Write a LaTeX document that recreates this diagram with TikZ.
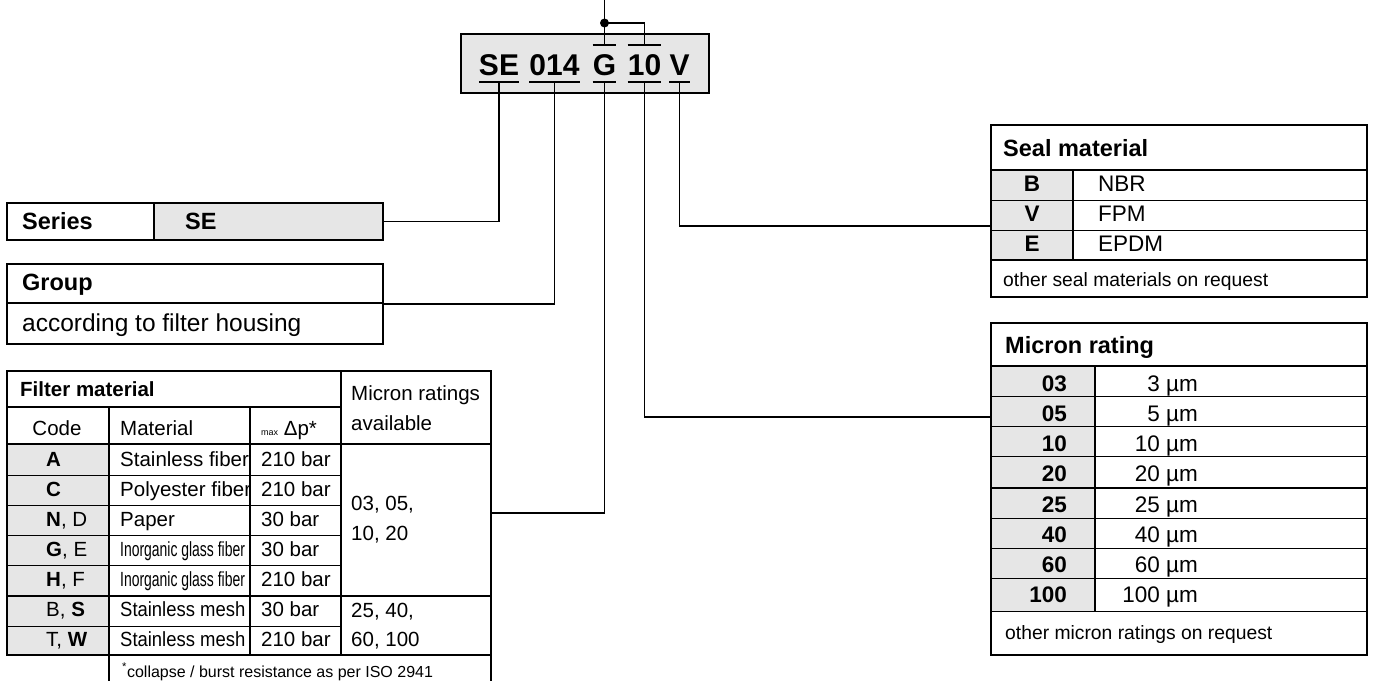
\documentclass[tikz,border=0pt]{standalone}
\usepackage{fontspec}
\setmainfont{Liberation Sans}
\newfontfamily\condensed[FakeStretch=0.68]{Liberation Sans}
\newfontfamily\narrowfont[FakeStretch=0.9]{Liberation Sans}
\usetikzlibrary{positioning,calc}
\definecolor{cellgray}{RGB}{230,230,230}

\begin{document}
\begin{tikzpicture}[
  x=1pt, y=-1pt,
  frame/.style={draw, line width=1.6pt, inner sep=0pt},
  heavy/.style={line width=1.6pt},
  rule/.style={line width=0.9pt},
  link/.style={line width=1.6pt},
  txt/.style={inner sep=0pt, anchor=base west},
  rtxt/.style={inner sep=0pt, anchor=base east},
  ctxt/.style={inner sep=0pt, anchor=base},
  part/.style={inner xsep=0pt, inner ysep=7pt, anchor=base, text height=23pt, text depth=0pt, font=\fontsize{30}{36}\selectfont\bfseries},
  head/.style={font=\fontsize{23.5}{28}\selectfont\bfseries},
  fb/.style={font=\fontsize{20.5}{24}\selectfont},
  val/.style={font=\fontsize{22.5}{27}\selectfont},
  note/.style={font=\fontsize{19.3}{23}\selectfont}
]
  \useasboundingbox[fill=white] (0,0) rectangle (1373,680);

  % Order code
  \node[frame, fill=cellgray, minimum width=248pt, minimum height=59pt] (code) at (585,63.5) {};
  \node[part] (cSE) at (499,75) {SE};
  \node[part] (c014) at (554.5,75) {014};
  \node[part] (cG) at (604.5,75) {G};
  \node[part] (c10) at (644.5,75) {10};
  \node[part] (cV) at (679.5,75) {V};

  \draw[link] (cSE.south west) -- (cSE.south east);
  \draw[link] (c014.south west) -- (c014.south east);
  \draw[link] (cG.south west) -- (cG.south east);
  \draw[link] (c10.south west) -- (c10.south east);
  \draw[link] (cV.south west) -- (cV.south east);
  \draw[link] (cG.north west) -- (cG.north east);
  \draw[link] (c10.north west) -- (c10.north east);

  \coordinate (top) at (604.5,0);
  \coordinate (join) at (604.5,23);
  \draw[link] (cG.north) -- (top);
  \draw[link] (join) -| (c10.north);
  \fill (join) circle[radius=4.5pt];

  % Series
  \fill[cellgray] (154,203) rectangle (383,240);
  \node[frame, minimum width=376pt, minimum height=37pt] (series) at (195,221.5) {};
  \draw[heavy] (154,203) -- (154,240);
  \node[txt, head] (seriesHd) at (22,229) {Series};
  \node[txt, head] (seriesVal) at (185,229) {SE};

  % Group
  \node[frame, minimum width=376pt, minimum height=80pt] (group) at (195,304) {};
  \draw[heavy] (7,303) -- (383,303);
  \node[txt, head] (groupHd) at (22,290) {Group};
  \node[txt, font=\fontsize{24.5}{29}\selectfont] (groupVal) at (22,331) {according to filter housing};

  % Filter material
  \fill[cellgray] (7,444) rectangle (109,655);
  \node[frame, minimum width=484pt, minimum height=284pt] (filter) at (249,513) {};
  \draw[heavy] (7,407) -- (341,407);
  \draw[heavy] (341,371) -- (341,655);
  \draw[heavy] (7,444) -- (491,444);
  \draw[heavy] (109,407) -- (109,684);
  \draw[heavy] (250,407) -- (250,655);
  \draw[rule] (7,475) -- (341,475);
  \draw[rule] (7,505) -- (341,505);
  \draw[rule] (7,535) -- (341,535);
  \draw[rule] (7,565) -- (341,565);
  \draw[heavy] (7,596) -- (491,596);
  \draw[rule] (7,626) -- (341,626);
  \draw[heavy] (491,655) -- (491,684);

  \node[txt, fb] (filterHd) at (20,396.5) {\textbf{Filter material}};
  \node[ctxt, fb] (codeHd) at (57,435) {Code};
  \node[txt, fb] (matHd) at (120,435) {Material};
  \node[txt, fb] (dpHd) at (261,435) {{\fontsize{9}{10}\selectfont max} Δp*};
  \node[txt, fb] (ratHd) at (351,400) {Micron ratings};
  \node[txt, fb] (ratHdB) at (351,430) {available};

  \node[txt, fb] (codeA) at (46,466.7) {\textbf{A}};
  \node[txt, fb] (codeC) at (46,496.7) {\textbf{C}};
  \node[txt, fb] (codeN) at (46,526.7) {\textbf{N}, D};
  \node[txt, fb] (codeG) at (46,556.7) {\textbf{G}, E};
  \node[txt, fb] (codeH) at (46,586.7) {\textbf{H}, F};
  \node[txt, fb] (codeS) at (46,616.7) {B, \textbf{S}};
  \node[txt, fb] (codeW) at (46,646.7) {T, \textbf{W}};

  \node[txt, fb] (matA) at (120,466.7) {Stainless fiber};
  \node[txt, fb] (matC) at (120,496.7) {Polyester fiber};
  \node[txt, fb] (matN) at (120,526.7) {Paper};
  \node[txt, fb] (matG) at (120,556.7) {\condensed Inorganic glass fiber};
  \node[txt, fb] (matH) at (120,586.7) {\condensed Inorganic glass fiber};
  \node[txt, fb] (matS) at (120,616.7) {\narrowfont Stainless mesh};
  \node[txt, fb] (matW) at (120,646.7) {\narrowfont Stainless mesh};

  \node[txt, fb] (dpA) at (261,466.7) {210 bar};
  \node[txt, fb] (dpC) at (261,496.7) {210 bar};
  \node[txt, fb] (dpN) at (261,526.7) {30 bar};
  \node[txt, fb] (dpG) at (261,556.7) {30 bar};
  \node[txt, fb] (dpH) at (261,586.7) {210 bar};
  \node[txt, fb] (dpS) at (261,616.7) {30 bar};
  \node[txt, fb] (dpW) at (261,646.7) {210 bar};

  \node[txt, fb] (ratFine) at (351,510) {03, 05,};
  \node[txt, fb] (ratFineB) at (351,540) {10, 20};
  \node[txt, fb] (ratMesh) at (351,617) {25, 40,};
  \node[txt, fb] (ratMeshB) at (351,646) {60, 100};

  \node[txt, font=\fontsize{16}{19}\selectfont] (dpNote) at (122,677) {\textsuperscript{*}collapse / burst resistance as per ISO 2941};

  % Seal material
  \fill[cellgray] (991,170) rectangle (1073,260);
  \node[frame, minimum width=376pt, minimum height=172pt] (seal) at (1179,211) {};
  \draw[heavy] (991,170) -- (1367,170);
  \draw[heavy] (1073,170) -- (1073,260);
  \draw[rule] (991,200) -- (1367,200);
  \draw[rule] (991,230) -- (1367,230);
  \draw[heavy] (991,260) -- (1367,260);

  \node[txt, head] (sealHd) at (1003,156.5) {Seal material};
  \node[ctxt, val] (sealB) at (1032,191.7) {\textbf{B}};
  \node[ctxt, val] (sealV) at (1032,221.7) {\textbf{V}};
  \node[ctxt, val] (sealE) at (1032,251.7) {\textbf{E}};
  \node[txt, val] (nbr) at (1098,191.7) {NBR};
  \node[txt, val] (fpm) at (1098,221.7) {FPM};
  \node[txt, val] (epdm) at (1098,251.7) {EPDM};
  \node[txt, note] (sealNote) at (1003,286) {other seal materials on request};

  % Micron rating
  \fill[cellgray] (991,366) rectangle (1095,611.5);
  \node[frame, minimum width=376pt, minimum height=332pt] (micron) at (1179,489) {};
  \draw[heavy] (991,366) -- (1367,366);
  \draw[heavy] (1095,366) -- (1095,611.5);
  \draw[rule] (991,396.5) -- (1367,396.5);
  \draw[rule] (991,426.5) -- (1367,426.5);
  \draw[rule] (991,456.5) -- (1367,456.5);
  \draw[heavy] (991,488) -- (1367,488);
  \draw[rule] (991,518) -- (1367,518);
  \draw[rule] (991,548) -- (1367,548);
  \draw[rule] (991,578) -- (1367,578);
  \draw[heavy] (991,611.5) -- (1367,611.5);

  \node[txt, head] (micronHd) at (1005,353) {Micron rating};
  \node[rtxt, val] (m03) at (1067,391.5) {\textbf{03}};
  \node[rtxt, val] (m05) at (1067,421.5) {\textbf{05}};
  \node[rtxt, val] (m10) at (1067,451.5) {\textbf{10}};
  \node[rtxt, val] (m20) at (1067,481.5) {\textbf{20}};
  \node[rtxt, val] (m25) at (1067,512.5) {\textbf{25}};
  \node[rtxt, val] (m40) at (1067,542.5) {\textbf{40}};
  \node[rtxt, val] (m60) at (1067,572.5) {\textbf{60}};
  \node[rtxt, val] (m100) at (1067,602.5) {\textbf{100}};
  \node[rtxt, val] (u03) at (1198,391.5) {3 µm};
  \node[rtxt, val] (u05) at (1198,421.5) {5 µm};
  \node[rtxt, val] (u10) at (1198,451.5) {10 µm};
  \node[rtxt, val] (u20) at (1198,481.5) {20 µm};
  \node[rtxt, val] (u25) at (1198,512.5) {25 µm};
  \node[rtxt, val] (u40) at (1198,542.5) {40 µm};
  \node[rtxt, val] (u60) at (1198,572.5) {60 µm};
  \node[rtxt, val] (u100) at (1198,602.5) {100 µm};
  \node[txt, note] (micronNote) at (1005,639) {other micron ratings on request};

  % Connectors
  \draw[link] (cSE.south) |- (series.east);
  \draw[link] (c014.south) |- (group.east);
  \draw[link] (cG.south) |- (filter.east);
  \draw[link] (c10.south) |- ([yshift=72pt]micron.west);
  \draw[link] (cV.south) |- ([yshift=-15pt]seal.west);
\end{tikzpicture}
\end{document}
